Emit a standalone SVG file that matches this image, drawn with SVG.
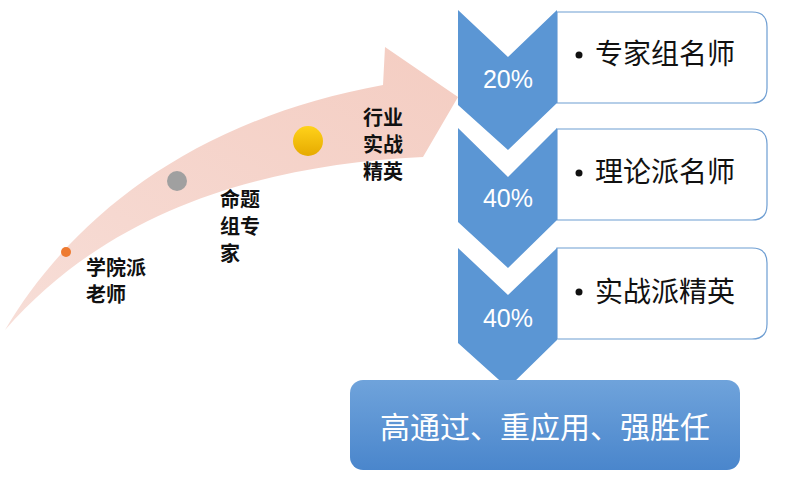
<svg xmlns="http://www.w3.org/2000/svg" width="785" height="478" viewBox="0 0 785 478">
<defs>
<linearGradient id="ar" x1="0" y1="1" x2="1" y2="0"><stop offset="0" stop-color="#f2c8bd" stop-opacity="0.6"/><stop offset="1" stop-color="#f4cdc2"/></linearGradient>
<linearGradient id="bt" x1="0" y1="0" x2="0" y2="1"><stop offset="0" stop-color="#6fa3db"/><stop offset="1" stop-color="#4a86cc"/></linearGradient>
<linearGradient id="yl" x1="0" y1="0" x2="0" y2="1"><stop offset="0" stop-color="#ffd21a"/><stop offset="1" stop-color="#e6aa00"/></linearGradient>
<style>
.lb{font-family:"Noto Sans CJK SC",sans-serif;font-weight:bold;font-size:20px;fill:#111}
.pc{font-family:"Liberation Sans",sans-serif;font-size:25px;fill:#fff;text-anchor:middle}
.it{font-family:"Noto Sans CJK SC",sans-serif;font-size:28px;fill:#111}
.ch{fill:#5b96d4}
.bx{fill:#fff;stroke:#6d9dd2;stroke-width:1.2}
</style>
</defs>
<g id="arrow">
<path d="M5,330 C70,220 190,120 383,85 L385,47 L458,97 L423,157 C260,165 110,210 5,330 Z" fill="url(#ar)"/>
<circle cx="66" cy="252" r="5" fill="#ee7a30"/>
<circle cx="177" cy="181" r="10" fill="#a0a0a0"/>
<circle cx="308" cy="141" r="15" fill="url(#yl)"/>
</g>
<g id="labels">
<text class="lb" x="86" y="275">学院派</text><text class="lb" x="86" y="302">老师</text>
<text class="lb" x="220" y="207">命题</text><text class="lb" x="220" y="234">组专</text><text class="lb" x="220" y="261">家</text>
<text class="lb" x="363" y="125">行业</text><text class="lb" x="363" y="152">实战</text><text class="lb" x="363" y="179">精英</text>
</g>
<g id="item1">
<path class="bx" d="M557,12 H752 Q767,12 767,27 V88 Q767,103 752,103 H557 Z"/>
<path class="ch" d="M458,10 L508,57 L557,10 V103 L508,150 L458,105 Z"/>
<text class="pc" x="508" y="88">20%</text>
<circle cx="579" cy="55" r="3.5" fill="#111"/><text class="it" x="595" y="64">专家组名师</text>
</g>
<g id="item2">
<path class="bx" d="M557,129 H752 Q767,129 767,144 V205 Q767,220 752,220 H557 Z"/>
<path class="ch" d="M458,128 L508,177 L557,128 V220 L508,268 L458,222 Z"/>
<text class="pc" x="508" y="207">40%</text>
<circle cx="579" cy="173" r="3.5" fill="#111"/><text class="it" x="595" y="182">理论派名师</text>
</g>
<g id="item3">
<path class="bx" d="M557,248 H752 Q767,248 767,263 V324 Q767,339 752,339 H557 Z"/>
<path class="ch" d="M458,248 L508,295 L557,248 V340 L508,388 L458,343 Z"/>
<text class="pc" x="508" y="327">40%</text>
<circle cx="579" cy="292" r="3.5" fill="#111"/><text class="it" x="595" y="302">实战派精英</text>
</g>
<g id="result">
<rect x="350" y="380" width="390" height="90" rx="13" fill="url(#bt)"/>
<text x="545" y="438" text-anchor="middle" font-family="Noto Sans CJK SC,sans-serif" font-size="30" fill="#fff">高通过、重应用、强胜任</text>
</g>
</svg>
